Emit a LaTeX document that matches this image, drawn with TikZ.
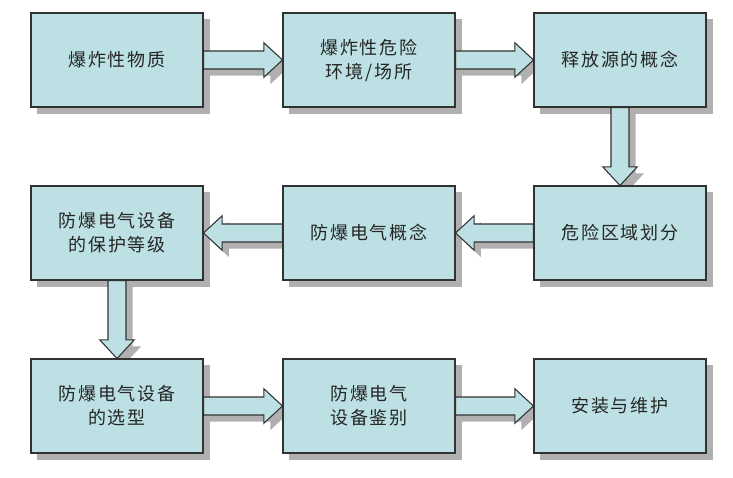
\documentclass[tikz,border=0pt]{standalone}
\usepackage{fontspec}
\newfontfamily\cjk[LetterSpace=10]{Noto Sans CJK SC}
\usetikzlibrary{calc,shadows}

\definecolor{boxfill}{RGB}{188,224,227}
\definecolor{boxline}{RGB}{50,50,50}
\definecolor{shadowgray}{RGB}{176,176,176}

\pgfdeclarelayer{shadowlayer}
\pgfdeclarelayer{arrowlayer}
\pgfsetlayers{shadowlayer,arrowlayer,main}

\tikzset{
    stagebox/.style={draw=boxline, fill=boxfill, line width=0.8pt,
        minimum width=129pt, minimum height=70.5pt, inner sep=0pt,
        align=center, font=\cjk\fontsize{13.5}{18}\selectfont, text=black!85},
    blockarrow/.style={draw=boxline, fill=boxfill, line width=0.8pt,
        drop shadow={shadow xshift=5pt, shadow yshift=-5pt, fill=shadowgray, opacity=1}}
}

% block arrow from one anchor to another
\newcommand{\blkarrow}[2]{%
    \coordinate (hb) at ($(#2)!14pt!(#1)$);
    \filldraw[blockarrow] ($(#1)!6.75pt!90:(#2)$) -- ($(hb)!6.75pt!90:(#2)$)
        -- ($(hb)!13pt!90:(#2)$) -- (#2) -- ($(hb)!13pt!-90:(#2)$)
        -- ($(hb)!6.75pt!-90:(#2)$) -- ($(#1)!6.75pt!-90:(#2)$) -- cycle;
}

\begin{document}
\begin{tikzpicture}[x=0.75pt, y=-0.75pt]
    \useasboundingbox (0,0) rectangle (733,478);

    % first row
    \node[stagebox] (matter) at (117,60) {爆炸性物质};
    \node[stagebox] (hazard) at (369,60) {爆炸性危险\\环境/场所};
    \node[stagebox] (source) at (620,60) {释放源的概念};

    % second row
    \node[stagebox] (level)   at (117,233) {防爆电气设备\\的保护等级};
    \node[stagebox] (concept) at (369,233) {防爆电气概念};
    \node[stagebox] (zoning)  at (620,233) {危险区域划分};

    % third row
    \node[stagebox] (select)   at (117,406) {防爆电气设备\\的选型};
    \node[stagebox] (identify) at (369,406) {防爆电气\\设备鉴别};
    \node[stagebox] (install)  at (620,406) {安装与维护};

    % box shadows
    \begin{pgfonlayer}{shadowlayer}
    \foreach \b in {matter,hazard,source,level,concept,zoning,select,identify,install} {
        \fill[shadowgray] ([shift={(5pt,-5pt)}]\b.south west) rectangle ([shift={(5pt,-5pt)}]\b.north east);
    }
    \end{pgfonlayer}

    % arrows
    \begin{pgfonlayer}{arrowlayer}
    \blkarrow{matter.east}{hazard.west}
    \blkarrow{hazard.east}{source.west}
    \blkarrow{source.south}{zoning.north}
    \blkarrow{zoning.west}{concept.east}
    \blkarrow{concept.west}{level.east}
    \blkarrow{level.south}{select.north}
    \blkarrow{select.east}{identify.west}
    \blkarrow{identify.east}{install.west}
    \end{pgfonlayer}

\end{tikzpicture}
\end{document}
